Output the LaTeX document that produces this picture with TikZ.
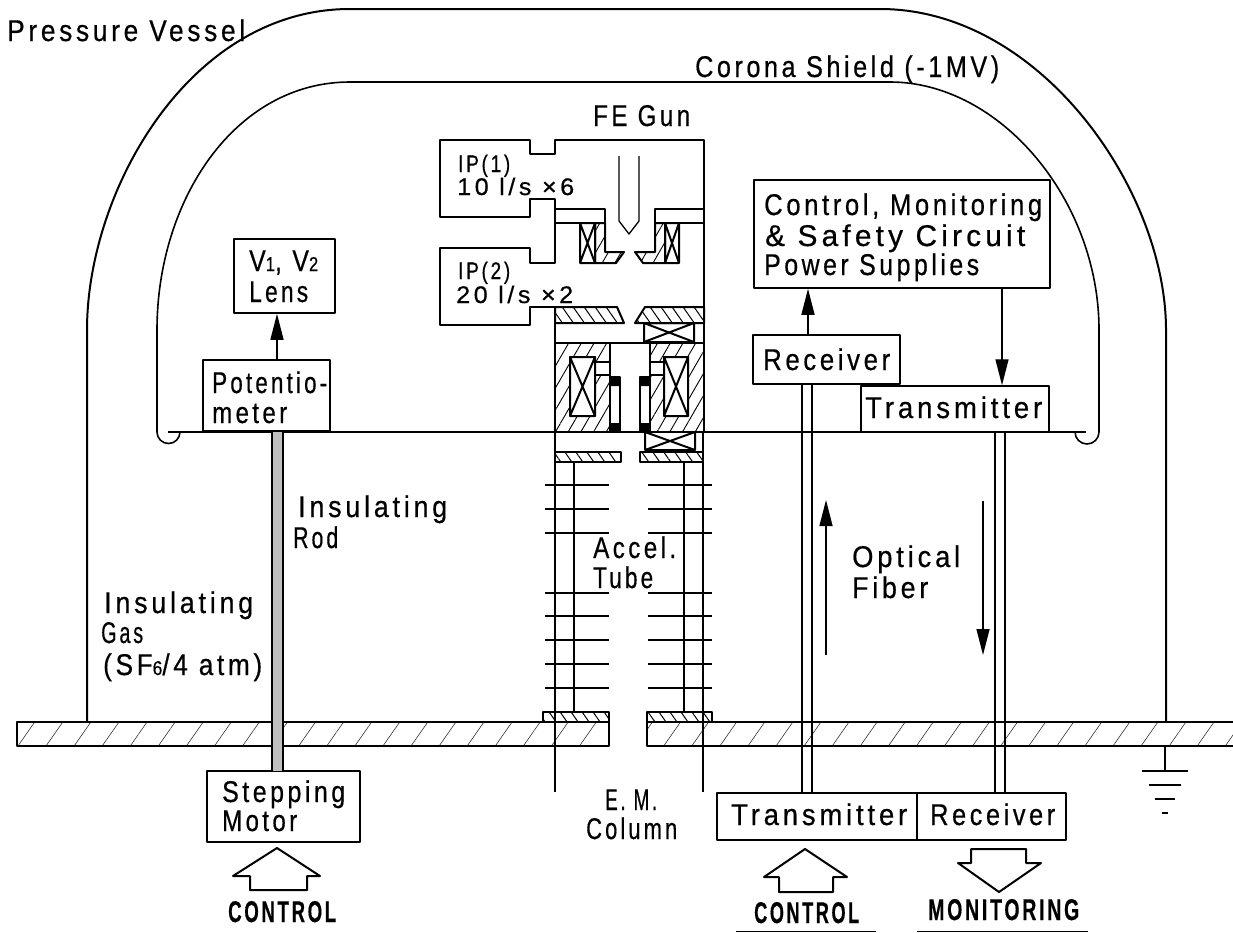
\documentclass[tikz,border=0pt]{standalone}
\usepackage{graphicx}
\usepackage{fontspec}
\setmainfont{Liberation Sans}[LetterSpace=11,FakeStretch=0.78,FakeBold=0.5]
\usetikzlibrary{patterns,patterns.meta,arrows.meta}
\newcommand\tx[2]{\resizebox{#1pt}{\height}{#2}}
\tikzset{
 x=1pt,y=-1pt,
 thickline/.style={line width=2pt},
 thinline/.style={line width=1.3pt},
 lbl/.style={inner sep=0pt,anchor=base west,font=\fontsize{30}{32}\selectfont},
 small/.style={inner sep=0pt,anchor=base west,font=\fontsize{24}{26}\selectfont},
 heavy/.style={inner sep=0pt,anchor=base west,font=\fontsize{30}{32}\selectfont\bfseries},
 boxed/.style={draw,line width=1.5pt,fill=white},
 ar/.style={line width=1.4pt,-{Triangle[length=26pt,width=13pt]}},
 hat/.style={pattern={Lines[angle=60,distance=11pt,line width=.9pt]}},
 hatb/.style={pattern={Lines[angle=-55,distance=9pt,line width=1pt]}},
 hatplate/.style={pattern={Lines[angle=55,distance=23pt,line width=.6pt]},pattern color=black!80},
}
\begin{document}
\begin{tikzpicture}[line join=round]
\useasboundingbox (0,0) rectangle (1233,932);
% base plate
\path[hatplate] (17,722) rectangle (609,746);
\path[hatplate] (647,722) rectangle (1233,746);
\draw[thickline] (1233,722) -- (647,722) -- (647,746) -- (1233,746);
\draw[thickline] (609,722) -- (17,722) -- (17,746) -- (609,746) -- cycle;
% vessel
\draw[line width=2pt] (87,722) -- (87,330) .. controls (87,190) and (190,9) .. (350,9) -- (880,9) .. controls (1040,9) and (1166,190) .. (1166,330) -- (1166,722);
% corona shield
\draw[line width=1.6pt] (180,432) arc[start angle=0,end angle=180,radius=11.5] -- (157,330) .. controls (157,200) and (235,82) .. (350,82) -- (890,82) .. controls (1000,82) and (1099,200) .. (1099,330) -- (1099,432) arc[start angle=0,end angle=180,radius=12];
\draw[thinline] (168,432) -- (1086,432);
% ---- FE gun housing
\draw[thinline] (555,343) -- (555,307) -- (530,307) -- (530,325) -- (440,325) -- (440,248) -- (530,248) -- (530,263) -- (555,263) -- (555,199) -- (530,199) -- (530,217) -- (440,217) -- (440,140) -- (530,140) -- (530,154) -- (555,154) -- (555,140) -- (704,140) -- (704,343);
\draw[thinline] (619,156) -- (619,221) -- (629,234) -- (639,221) -- (639,156);
% upper plates
\draw[thickline] (555,209) -- (605,209) -- (605,252);
\draw[thickline] (555,223) -- (605,223);
\draw[thickline] (704,209) -- (655,209) -- (655,252);
\draw[thickline] (704,223) -- (655,223);
% left lens
\draw[thickline,hat] (595,223) -- (605,223) -- (605,252) -- (624,252) -- (616,263) -- (595,263) -- cycle;
\draw[thickline] (580,223) rectangle (595,263) (580,223) -- (595,263) (595,223) -- (580,263);
% right lens
\draw[thickline,hat] (665,223) -- (655,223) -- (655,252) -- (635,252) -- (643,263) -- (665,263) -- cycle;
\draw[thickline] (665,223) rectangle (679,263) (665,223) -- (679,263) (679,223) -- (665,263);
% rings
\draw[thickline,hatb] (555,307) -- (617,307) -- (624,323) -- (555,323) -- cycle;
\draw[thickline,hatb] (645,307) -- (704,307) -- (704,323) -- (635,323) -- cycle;
\draw[thickline] (644,323) rectangle (694,342) (644,323) -- (694,342) (694,323) -- (644,342);
\draw[thickline] (555,343) -- (704,343);
% magnetic lens
\draw[thickline,hat,even odd rule] (555,343) rectangle (610,432) (570,357) rectangle (595,416) (595,362) rectangle (610,375);
\draw[thickline,hat,even odd rule] (650,343) rectangle (704,432) (664,357) rectangle (688,416) (650,362) rectangle (664,375);
\draw[thickline] (570,357) rectangle (595,416) (570,357) -- (595,416) (595,357) -- (570,416);
\draw[thickline] (664,357) rectangle (688,416) (664,357) -- (688,416) (688,357) -- (664,416);
\draw[thickline] (610,377) -- (620,377) -- (620,432) -- (610,432);
\draw[thickline] (650,377) -- (640,377) -- (640,432) -- (650,432);
\fill (610,377) rectangle (620,386) (610,423) rectangle (620,432) (640,377) rectangle (650,386) (640,423) rectangle (650,432);
% below-lens lines
\draw[thinline] (555,432) -- (555,792) (703,432) -- (703,792);
\draw[thickline] (645,432) -- (645,450) -- (695,450) -- (695,432) (645,432) -- (695,450) (695,432) -- (645,450);
\draw[thickline,hatb] (555,452) -- (621,452) -- (621,462) -- (555,462) -- cycle;
\draw[thickline,hatb] (640,452) -- (703,452) -- (703,462) -- (640,462) -- cycle;
% accel tube
\draw[thickline] (574,462) -- (574,712) (684,462) -- (684,712);
\foreach \yy in {485,509,533,593,616,640,664,688}{
  \draw[thinline] (545,\yy) -- (609,\yy) (648,\yy) -- (712,\yy);
}
\draw[thickline,hatb] (543,712) rectangle (609,722);
\draw[thickline,hatb] (647,712) rectangle (712,722);
% V1 V2, potentiometer, rod
\node[boxed,minimum width=101pt,minimum height=74pt] (lens) at (284.5,276) {};
\node[boxed,minimum width=127pt,minimum height=71pt] (pot) at (266.5,395.5) {};
\node[boxed,minimum width=153pt,minimum height=71pt] (stepm) at (283.5,806.5) {};
\draw[ar] (pot.north -| 277,0) -- (lens.south -| 277,0);
\path[fill=black!25] (272,432) rectangle (283,771);
\draw[line width=2.6pt] (272,432) -- (272,771) (283,432) -- (283,771);
% Control box etc
\node[boxed,minimum width=296pt,minimum height=108pt] (ctl) at (902,234) {};
\node[boxed,minimum width=147pt,minimum height=49pt] (rxu) at (826.5,359.5) {};
\node[boxed,minimum width=188pt,minimum height=46pt] (txu) at (955,409) {};
\draw[ar] (rxu.north -| 808,0) -- (ctl.south -| 808,0);
\draw[ar] (ctl.south -| 1002,0) -- (txu.north -| 1002,0);
\node[boxed,minimum width=200pt,minimum height=47pt] (txl) at (817,816.5) {};
\node[boxed,minimum width=149pt,minimum height=47pt] (rxl) at (991.5,816.5) {};
% fibres
\draw[thinline] (802,384) -- (802,793) (812,384) -- (812,793);
\draw[thinline] (995,432) -- (995,793) (1005,432) -- (1005,793);
\coordinate (fu1) at (826,655); \coordinate (fu2) at (826,500);
\coordinate (fd1) at (983,501); \coordinate (fd2) at (983,655);
\draw[ar] (fu1) -- (fu2);
\draw[ar] (fd1) -- (fd2);
% ground
\draw[thinline] (1165,746) -- (1165,771);
\draw[thickline] (1142,771) -- (1188,771);
\draw[thickline] (1149,785) -- (1181,785);
\draw[thinline] (1155,799) -- (1175,799);
\draw[thinline] (1162,813) -- (1168,813);
% block arrows
\draw[thickline] (277,848) -- (320,876) -- (307,876) -- (307,890) -- (250,890) -- (250,876) -- (233,876) -- cycle;
\draw[thickline] (805,849) -- (847,877) -- (833,877) -- (833,892) -- (779,892) -- (779,877) -- (764,877) -- cycle;
\draw[thickline] (971,849) -- (1026,849) -- (1026,863) -- (1041,863) -- (999,892) -- (958,863) -- (971,863) -- cycle;
\draw[line width=1pt] (736,931) -- (876,931) (917,931) -- (1088,931);
% labels
\node[lbl] (t1) at (7,41) {\tx{238}{Pressure Vessel}};
\node[lbl] (t2) at (695,77) {\tx{304}{Corona Shield (-1MV)}};
\node[lbl] (t3) at (593,126) {\tx{97}{FE Gun}};
\node[small] (t4) at (458,172) {\tx{52}{IP(1)}};
\node[small] (t5) at (457,195) {\tx{117}{10 l/s ×6}};
\node[small] (t6) at (458,279) {\tx{52}{IP(2)}};
\node[small] (t7) at (456,303) {\tx{117}{20 l/s ×2}};
\node[lbl] (t8) at (249,271) {\tx{69}{V{\fontsize{20}{20}\selectfont 1}, V{\fontsize{20}{20}\selectfont 2}}};
\node[lbl] (t9) at (249,302) {\tx{59}{Lens}};
\node[lbl] (t10) at (212,393) {\tx{115}{Potentio-}};
\node[lbl] (t11) at (212,423) {\tx{75}{meter}};
\node[lbl] (t12) at (764,215) {\tx{278}{Control, Monitoring}};
\node[lbl] (t13) at (765,246) {\tx{260}{\& Safety Circuit}};
\node[lbl] (t14) at (764,275) {\tx{215}{Power Supplies}};
\node[lbl] (t15) at (763,370) {\tx{127}{Receiver}};
\node[lbl] (t16) at (865,418) {\tx{177}{Transmitter}};
\node[lbl] (t17) at (298,517) {\tx{149}{Insulating}};
\node[lbl] (t18) at (293,548) {\tx{45}{Rod}};
\node[lbl] (t19) at (104,613) {\tx{149}{Insulating}};
\node[lbl] (t20) at (101,643) {\tx{42}{Gas}};
\node[lbl] (t21) at (103,675) {\tx{159}{(SF{\fontsize{20}{20}\selectfont 6}/4 atm)}};
\node[lbl] (t22) at (593,558) {\tx{83}{Accel.}};
\node[lbl] (t23) at (593,588) {\tx{60}{Tube}};
\node[lbl] (t24) at (852,567) {\tx{108}{Optical}};
\node[lbl] (t25) at (852,598) {\tx{76}{Fiber}};
\node[lbl] (t26) at (605,810) {\tx{52}{E. M.}};
\node[lbl] (t27) at (586,839) {\tx{91}{Column}};
\node[lbl] (t28) at (222,802) {\tx{123}{Stepping}};
\node[lbl] (t29) at (222,831) {\tx{75}{Motor}};
\node[heavy] (t30) at (228,922) {\tx{108}{CONTROL}};
\node[heavy] (t31) at (754,923) {\tx{105}{CONTROL}};
\node[heavy] (t32) at (928,920) {\tx{151}{MONITORING}};
\node[lbl] (t33) at (731,825) {\tx{176}{Transmitter}};
\node[lbl] (t34) at (930,825) {\tx{125}{Receiver}};
\end{tikzpicture}
\end{document}
